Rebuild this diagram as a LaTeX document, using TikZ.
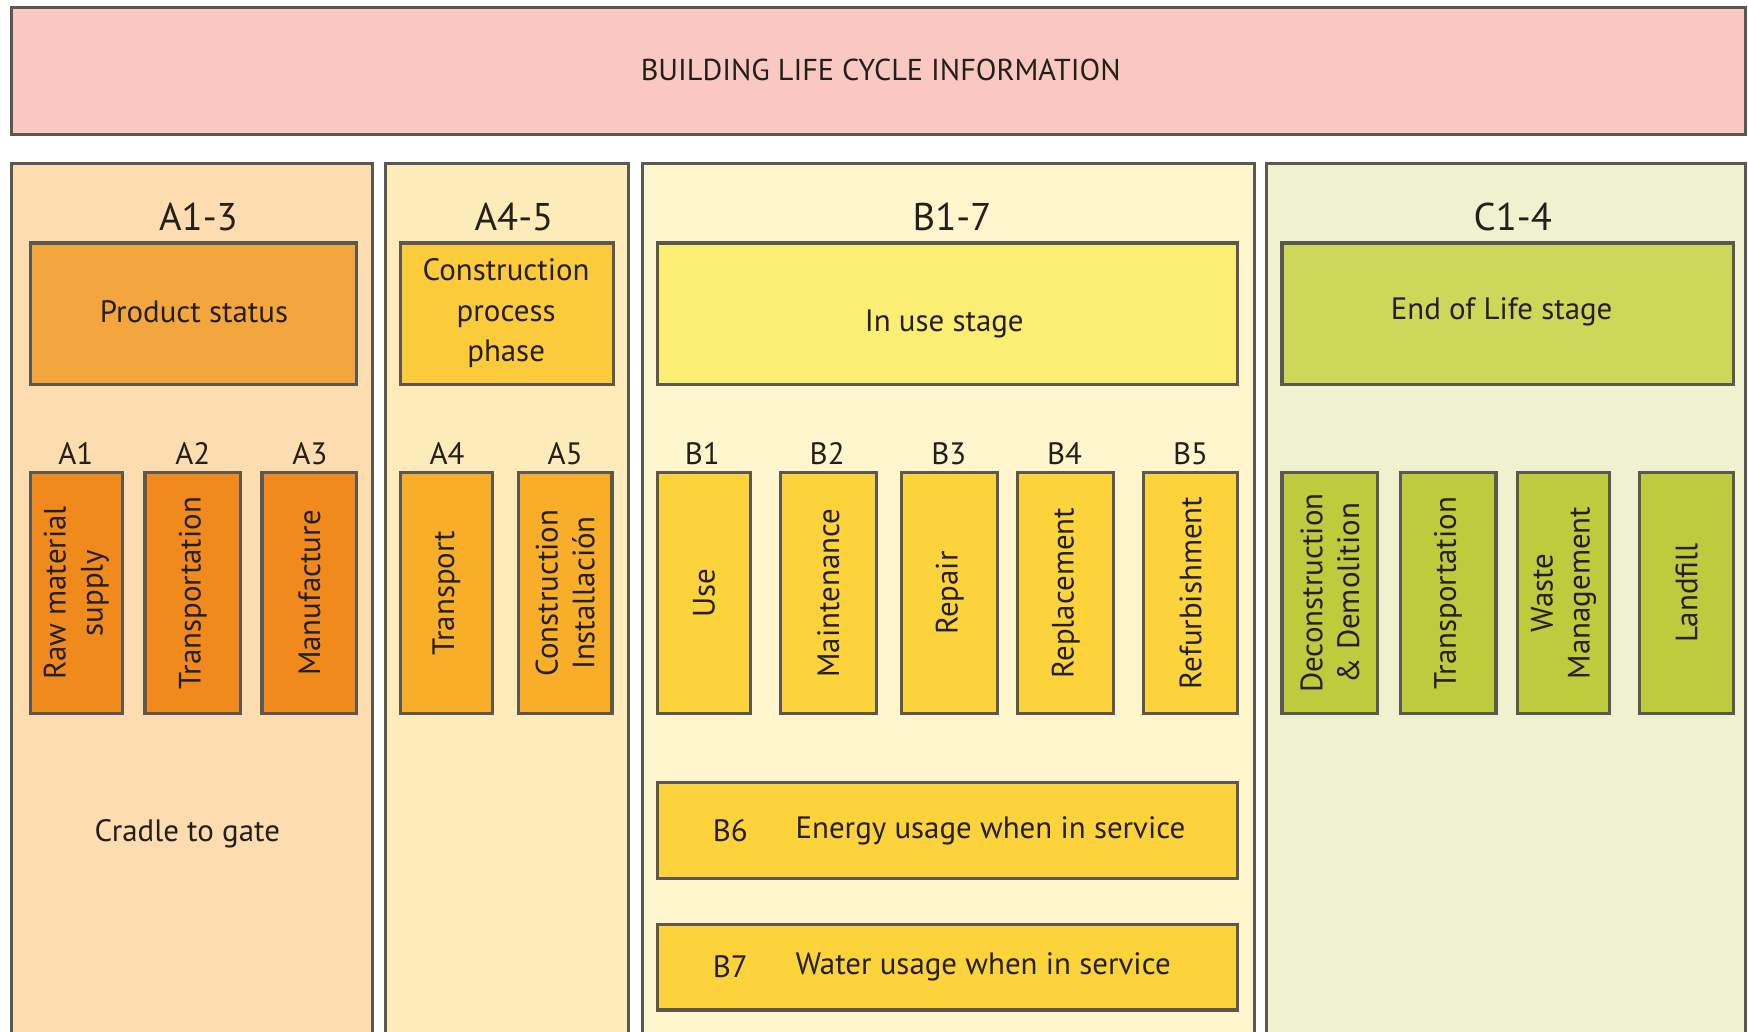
\documentclass[tikz,border=0pt]{standalone}
\usepackage{fontspec}
\setmainfont{PT Sans}
\usetikzlibrary{fit}
\definecolor{bordc}{HTML}{5A5850}
\definecolor{txtc}{HTML}{231F1A}
\definecolor{topfill}{HTML}{F9C8C0}
\definecolor{panA}{HTML}{FDDDB0}
\definecolor{panAf}{HTML}{FEEBBA}
\definecolor{panB}{HTML}{FFF6CE}
\definecolor{panC}{HTML}{EFF1CF}
\definecolor{hdA}{HTML}{F4A63E}
\definecolor{hdAf}{HTML}{FCCB3C}
\definecolor{hdB}{HTML}{FBEE72}
\definecolor{hdC}{HTML}{CDD85A}
\definecolor{smA}{HTML}{F18A1C}
\definecolor{smAf}{HTML}{F8AE28}
\definecolor{smB}{HTML}{FDD33C}
\definecolor{smC}{HTML}{BDCB3C}
\begin{document}
\begin{tikzpicture}[x=0.011148cm,y=-0.011148cm,
  boxst/.style={draw=bordc, line width=0.9pt, inner sep=0pt},
  bodytxt/.style={text=txtc, font=\fontsize{8.8}{10.5}\selectfont, align=center, inner sep=0pt},
  titletxt/.style={text=txtc, font=\fontsize{11}{12}\selectfont, inner sep=0pt},
  toptxt/.style={text=txtc, font=\fontsize{8.6}{10}\selectfont, inner sep=0pt},
  rottxt/.style={bodytxt, rotate=90}]
\useasboundingbox (0,0) rectangle (1568,925);
\fill[white] (0,0) rectangle (1568,925);
\begin{scope}
\clip (0,0) rectangle (1568,925);
% top banner
\node[boxst, fill=topfill, fit={(10,7) (1566,121)}] (top) {};
\node[toptxt] (toptitle) at (790,63) {BUILDING LIFE CYCLE INFORMATION};
% panels
\node[boxst, fill=panA, fit={(10,147) (334,960)}] (pA) {};
\node[boxst, fill=panAf, fit={(346,147) (564,960)}] (pAf) {};
\node[boxst, fill=panB, fit={(576,147) (1125,960)}] (pB) {};
\node[boxst, fill=panC, fit={(1136,147) (1566,960)}] (pC) {};
\end{scope}
% panel titles
\node[titletxt] (tA) at (178,195) {A1-3};
\node[titletxt] (tAf) at (461,195) {A4-5};
\node[titletxt] (tB) at (854,195) {B1-7};
\node[titletxt] (tC) at (1357,195) {C1-4};
% header boxes
\node[boxst, fill=hdA, fit={(27,218) (320,345)}] (hA) {};
\node[bodytxt] (hAt) at (174,280) {Product status};
\node[boxst, fill=hdAf, fit={(359,218) (550,345)}] (hAf) {};
\node[bodytxt, text width=2.1cm, font=\fontsize{8.8}{11.6}\selectfont] (hAft) at (454,281) {Construction\\ process\\ phase};
\node[boxst, fill=hdB, fit={(590,218) (1110,345)}] (hB) {};
\node[bodytxt] (hBt) at (847,291) {In use stage};
\node[boxst, fill=hdC, fit={(1150,218) (1555,345)}] (hC) {};
\node[bodytxt] (hCt) at (1347,280) {End of Life stage};
% small boxes A1-3
\node[boxst, fill=smA, fit={(27,424) (110,640)}] (a1) {};
\node[rottxt] (a1t) at (a1.center) {Raw material\\supply};
\node[bodytxt] (a1l) at (68,407) {A1};
\node[boxst, fill=smA, fit={(130,424) (216,640)}] (a2) {};
\node[rottxt] (a2t) at (a2.center) {Transportation};
\node[bodytxt] (a2l) at (173,407) {A2};
\node[boxst, fill=smA, fit={(235,424) (320,640)}] (a3) {};
\node[rottxt] (a3t) at (a3.center) {Manufacture};
\node[bodytxt] (a3l) at (278,407) {A3};
% A4-5
\node[boxst, fill=smAf, fit={(359,424) (442,640)}] (a4) {};
\node[rottxt] (a4t) at (a4.center) {Transport};
\node[bodytxt] (a4l) at (401,407) {A4};
\node[boxst, fill=smAf, fit={(465,424) (549,640)}] (a5) {};
\node[rottxt] (a5t) at (a5.center) {Construction\\Installación};
\node[bodytxt] (a5l) at (507,407) {A5};
% B1-5
\node[boxst, fill=smB, fit={(590,424) (673,640)}] (b1) {};
\node[rottxt] (b1t) at (b1.center) {Use};
\node[bodytxt] (b1l) at (630,407) {B1};
\node[boxst, fill=smB, fit={(700,424) (786,640)}] (b2) {};
\node[rottxt] (b2t) at (b2.center) {Maintenance};
\node[bodytxt] (b2l) at (742,407) {B2};
\node[boxst, fill=smB, fit={(809,424) (895,640)}] (b3) {};
\node[rottxt] (b3t) at (b3.center) {Repair};
\node[bodytxt] (b3l) at (851,407) {B3};
\node[boxst, fill=smB, fit={(913,424) (999,640)}] (b4) {};
\node[rottxt] (b4t) at (b4.center) {Replacement};
\node[bodytxt] (b4l) at (955,407) {B4};
\node[boxst, fill=smB, fit={(1026,424) (1110,640)}] (b5) {};
\node[rottxt] (b5t) at (b5.center) {Refurbishment};
\node[bodytxt] (b5l) at (1068,407) {B5};
% B6, B7
\node[boxst, fill=smB, fit={(590,702) (1110,788)}] (b6) {};
\node[bodytxt] (b6l) at (655,745) {B6};
\node[bodytxt, anchor=west] (b6t) at (713,745) {Energy usage when in service};
\node[boxst, fill=smB, fit={(590,829) (1110,906)}] (b7) {};
\node[bodytxt] (b7l) at (655,867) {B7};
\node[bodytxt, anchor=west] (b7t) at (713,867) {Water usage when in service};
% C1-4
\node[boxst, fill=smC, fit={(1150,424) (1236,640)}] (c1) {};
\node[rottxt] (c1t) at (c1.center) {Deconstruction\\\& Demolition};
\node[boxst, fill=smC, fit={(1256,424) (1342,640)}] (c2) {};
\node[rottxt] (c2t) at (c2.center) {Transportation};
\node[boxst, fill=smC, fit={(1361,424) (1444,640)}] (c3) {};
\node[rottxt] (c3t) at (c3.center) {Waste\\Management};
\node[boxst, fill=smC, fit={(1471,424) (1555,640)}] (c4) {};
\node[rottxt] (c4t) at (c4.center) {Landfill};
% cradle to gate
\node[bodytxt] (cg) at (168,748) {Cradle to gate};
\end{tikzpicture}
\end{document}
